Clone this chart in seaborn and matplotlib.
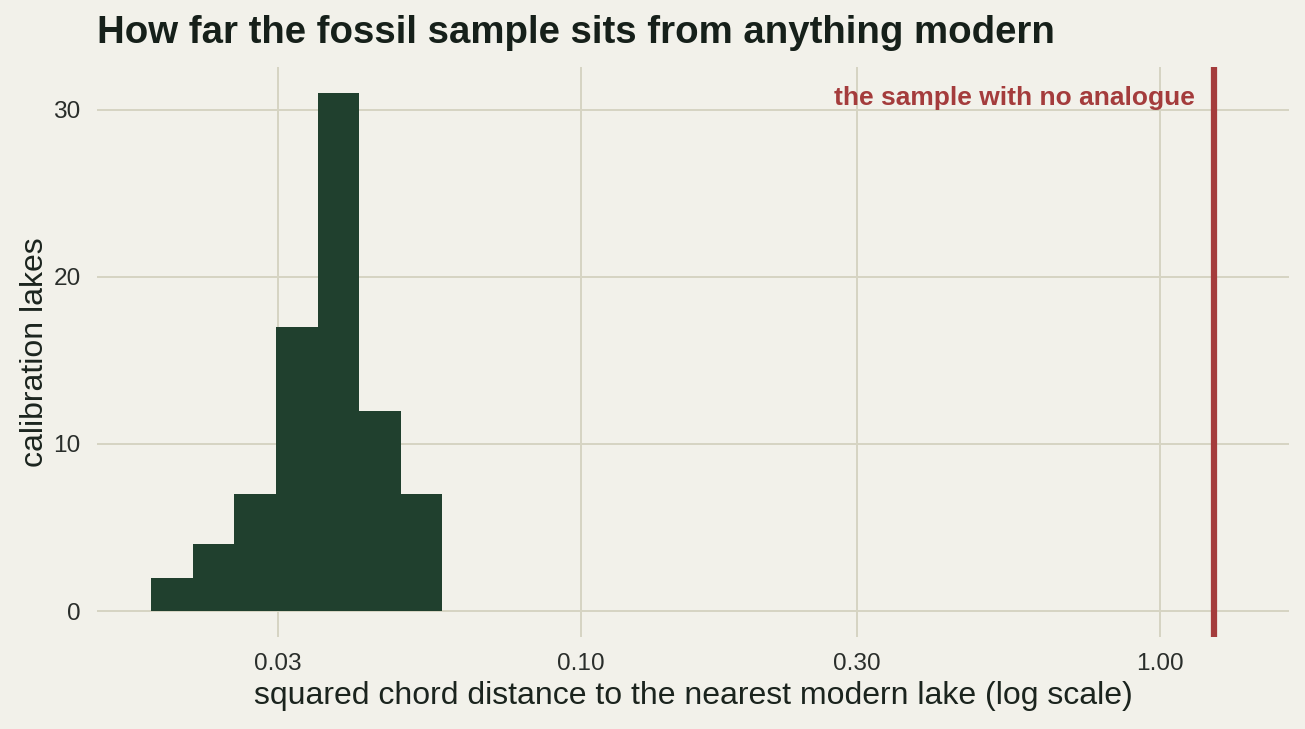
import numpy as np
import pandas as pd
import matplotlib
matplotlib.use('Agg')
import matplotlib.pyplot as plt
from matplotlib.ticker import FixedLocator, FixedFormatter, NullLocator
import seaborn as sns

# histogram of nearest-analogue distances for the calibration lakes
bin_edges = [0.01808, 0.02135, 0.02518, 0.02972, 0.03507, 0.04138, 0.04884, 0.05763]
lake_counts = [2, 4, 7, 17, 31, 12, 7]
fossil_distance = 1.24

x_ticks = [0.03, 0.10, 0.30, 1.00]
x_ticklabels = ['0.03', '0.10', '0.30', '1.00']
y_ticks = [0, 10, 20, 30]

bg = '#f2f1ea'
grid_col = '#d6d4c2'
bar_col = '#20402e'
red = '#a43c3c'
ink = '#1b241e'
tick_ink = '#2a2e2b'

sns.set_theme(style='white')
plt.rcParams['font.family'] = ['Liberation Sans', 'DejaVu Sans']

edges = np.array(bin_edges)
df = pd.DataFrame({'dist': np.sqrt(edges[:-1] * edges[1:]), 'n': lake_counts})

fig = plt.figure(figsize=(13.05, 7.29), dpi=100, facecolor=bg)
ax = fig.add_axes([97 / 1305, 1 - 637 / 729, (1289 - 97) / 1305, (637 - 67) / 729])
ax.set_facecolor(bg)

sns.histplot(data=df, x='dist', weights='n', bins=bin_edges, color=bar_col,
             alpha=1, linewidth=0, edgecolor=bar_col, ax=ax, zorder=2)
ax.set_xscale('log')
ax.set_xlim(10 ** -1.836, 10 ** 0.2228)
ax.set_ylim(-1.55, 32.55)

ax.xaxis.set_major_locator(FixedLocator(x_ticks))
ax.xaxis.set_major_formatter(FixedFormatter(x_ticklabels))
ax.xaxis.set_minor_locator(NullLocator())
ax.set_yticks(y_ticks)

ax.grid(True, color=grid_col, linewidth=1.4, zorder=0)
ax.set_axisbelow(True)
for s in ax.spines.values():
    s.set_visible(False)
ax.tick_params(axis='both', length=0, labelsize=17.6, colors=tick_ink)
ax.tick_params(axis='x', pad=11.5)
ax.tick_params(axis='y', pad=11.7)

ax.axvline(fossil_distance, color=red, linewidth=4.5, zorder=3)
ax.text(1.149, 30.3, 'the sample with no analogue', color=red, fontsize=19,
        fontweight='bold', ha='right', va='baseline', zorder=4)

ax.set_xlabel('squared chord distance to the nearest modern lake (log scale)',
              fontsize=23, color=ink, labelpad=4.3)
ax.set_ylabel('calibration lakes', fontsize=23, color=ink, labelpad=2.5)

fig.text(97 / 1305, 1 - 43 / 729, 'How far the fossil sample sits from anything modern',
         fontsize=27.6, fontweight='bold', color='#16201a', ha='left', va='baseline')

fig.savefig('out.png', dpi=100, facecolor=bg)
